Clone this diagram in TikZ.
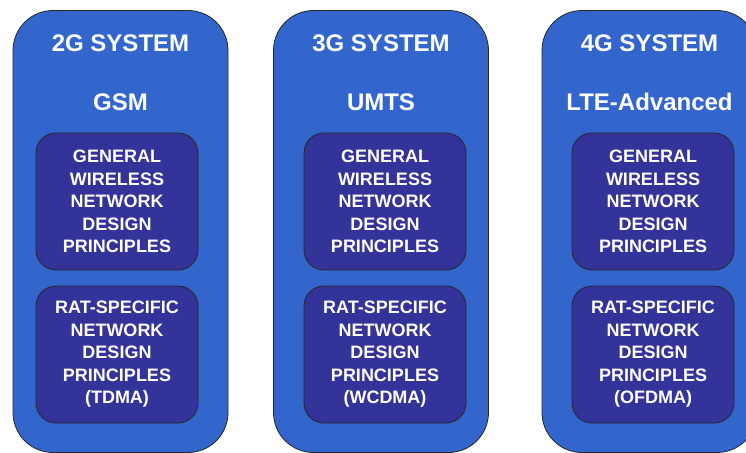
\documentclass[tikz,border=0pt]{standalone}
\usepackage{fontspec}
\setmainfont{Liberation Sans}
\usetikzlibrary{shapes,positioning}
\definecolor{sysblue}{HTML}{3366CC}
\definecolor{princblue}{HTML}{333399}
\tikzset{
  sysbox/.style={draw=black!85, line width=0.8pt, fill=sysblue, rounded corners=40pt,
    minimum width=215pt, minimum height=442pt, inner sep=0pt},
  title/.style={text=white, font=\fontsize{24}{28}\selectfont\bfseries, anchor=base, inner sep=0pt},
  princbox/.style={draw=black!85, line width=0.8pt, fill=princblue, rounded corners=20pt,
    minimum width=162pt, minimum height=137pt, inner sep=0pt, text=white, align=center,
    font=\fontsize{18}{22.5}\selectfont\bfseries,
    execute at begin node={\rule{0pt}{18pt}}},
}
\begin{document}
\begin{tikzpicture}[x=1pt,y=-1pt]
  \useasboundingbox (0,0) rectangle (746,452);
  \clip (0,0) rectangle (746,452);
  % system columns
  \node [sysbox] (sys2g) at (120.5,231.5) {};
  \node [sysbox] (sys3g) at (381,231.5) {};
  \node [sysbox] (sys4g) at (649.5,231.5) {};
  % titles
  \node [title] (t2g) at (120.5,52) {2G SYSTEM};
  \node [title] (n2g) at (120.5,110) {GSM};
  \node [title] (t3g) at (381,52) {3G SYSTEM};
  \node [title] (n3g) at (381,110) {UMTS};
  \node [title] (t4g) at (649.5,52) {4G SYSTEM};
  \node [title] (n4g) at (649.5,110) {LTE-Advanced};
  % general principles
  \node [princbox] (gen2g) at (117,201.5) {GENERAL\\WIRELESS\\NETWORK\\DESIGN\\PRINCIPLES};
  \node [princbox] (gen3g) at (385,201.5) {GENERAL\\WIRELESS\\NETWORK\\DESIGN\\PRINCIPLES};
  \node [princbox] (gen4g) at (653,201.5) {GENERAL\\WIRELESS\\NETWORK\\DESIGN\\PRINCIPLES};
  % RAT-specific principles
  \node [princbox] (rat2g) at (117,354.5) {RAT-SPECIFIC\\NETWORK\\DESIGN\\PRINCIPLES\\(TDMA)};
  \node [princbox] (rat3g) at (385,354.5) {RAT-SPECIFIC\\NETWORK\\DESIGN\\PRINCIPLES\\(WCDMA)};
  \node [princbox] (rat4g) at (653,354.5) {RAT-SPECIFIC\\NETWORK\\DESIGN\\PRINCIPLES\\(OFDMA)};
\end{tikzpicture}
\end{document}
